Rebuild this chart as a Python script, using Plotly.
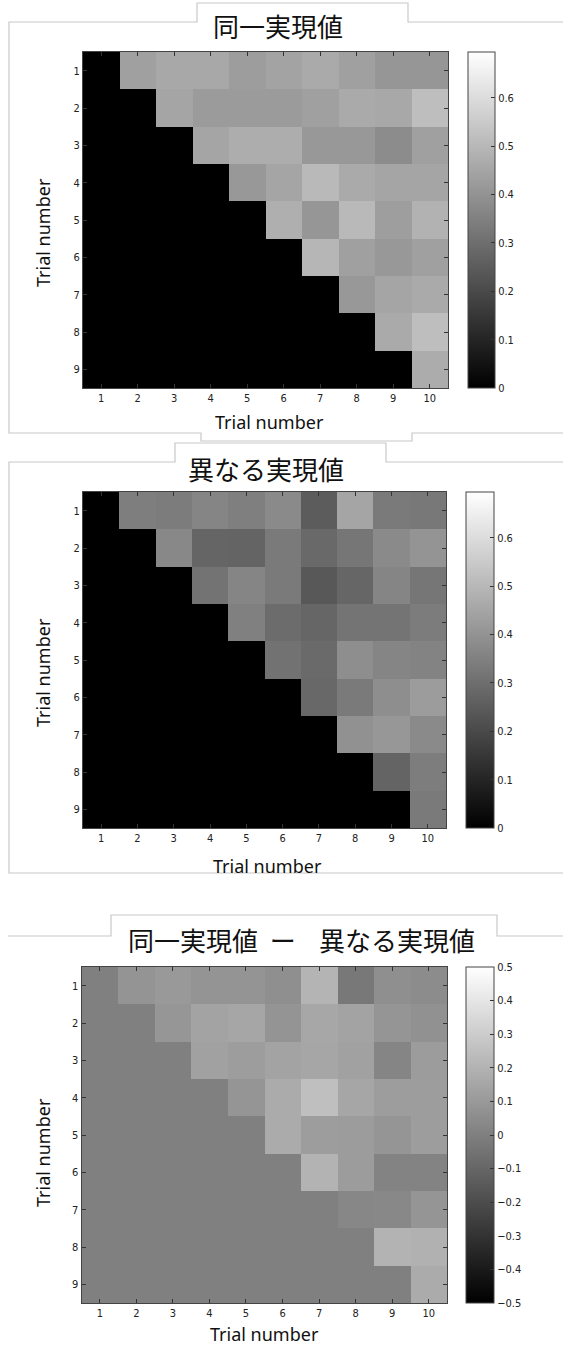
import plotly.graph_objects as go

# ---------------- data ----------------
x_trials = [1, 2, 3, 4, 5, 6, 7, 8, 9, 10]
y_trials = [1, 2, 3, 4, 5, 6, 7, 8, 9]

# 同一実現値 (same realization)
same_vals = [
    [0, .436, .458, .458, .428, .444, .463, .436, .409, .409],
    [0, 0, .450, .422, .422, .422, .436, .463, .458, .518],
    [0, 0, 0, .450, .471, .471, .414, .414, .382, .436],
    [0, 0, 0, 0, .414, .450, .504, .463, .450, .450],
    [0, 0, 0, 0, 0, .477, .409, .504, .431, .485],
    [0, 0, 0, 0, 0, 0, .496, .436, .414, .436],
    [0, 0, 0, 0, 0, 0, 0, .414, .450, .463],
    [0, 0, 0, 0, 0, 0, 0, 0, .463, .518],
    [0, 0, 0, 0, 0, 0, 0, 0, 0, .469],
]

# 異なる実現値 (different realization)
other_vals = [
    [0, .343, .338, .362, .346, .376, .251, .450, .332, .327],
    [0, 0, .371, .275, .272, .332, .286, .322, .376, .403],
    [0, 0, 0, .313, .362, .332, .240, .278, .362, .322],
    [0, 0, 0, 0, .349, .294, .278, .316, .316, .338],
    [0, 0, 0, 0, 0, .311, .289, .387, .362, .357],
    [0, 0, 0, 0, 0, 0, .283, .332, .387, .425],
    [0, 0, 0, 0, 0, 0, 0, .395, .411, .376],
    [0, 0, 0, 0, 0, 0, 0, 0, .273, .341],
    [0, 0, 0, 0, 0, 0, 0, 0, 0, .332],
]

# 同一実現値 − 異なる実現値
delta_vals = [
    [0, .080, .100, .080, .080, .060, .205, -.030, .060, .050],
    [0, 0, .090, .140, .150, .080, .155, .140, .085, .070],
    [0, 0, 0, .130, .115, .140, .150, .130, .020, .110],
    [0, 0, 0, 0, .085, .170, .250, .150, .115, .115],
    [0, 0, 0, 0, 0, .170, .115, .110, .085, .115],
    [0, 0, 0, 0, 0, 0, .200, .110, .015, .015],
    [0, 0, 0, 0, 0, 0, 0, .030, .035, .085],
    [0, 0, 0, 0, 0, 0, 0, 0, .200, .195],
    [0, 0, 0, 0, 0, 0, 0, 0, 0, .170],
]

pos_ticks = [0, 0.1, 0.2, 0.3, 0.4, 0.5, 0.6]
pos_ticktext = ["0", "0.1", "0.2", "0.3", "0.4", "0.5", "0.6"]
sym_ticks = [0.5, 0.4, 0.3, 0.2, 0.1, 0, -0.1, -0.2, -0.3, -0.4, -0.5]
sym_ticktext = ["0.5", "0.4", "0.3", "0.2", "0.1", "0", "\u22120.1", "\u22120.2",
                "\u22120.3", "\u22120.4", "\u22120.5"]

titles = ["同一実現値", "異なる実現値",
          "同一実現値\u00a0\u00a0ー\u00a0\u00a0\u00a0\u00a0異なる実現値"]
axis_label = "Trial number"

# ---------------- layout helpers ----------------
W, H = 563, 1347


def fx(x):
    return x / W


def fy(y):
    return 1 - y / H


TICK_FONT = dict(family="Liberation Sans Narrow, DejaVu Sans Condensed, Arial Narrow, sans-serif",
                 size=11, color="#222")
gray = [[0, "rgb(0,0,0)"], [1, "rgb(255,255,255)"]]

# panel geometry in pixels: (x0, x1, y0, y1, cbar_x0, cbar_x1)
panels = [
    (83, 448, 52, 388, 468, 495),
    (83, 446, 492, 828, 466, 494),
    (81.5, 447, 967, 1303, 466, 494),
]
datasets = [same_vals, other_vals, delta_vals]
zranges = [(0, 0.695), (0, 0.695), (-0.5, 0.5)]
cticks = [(pos_ticks, pos_ticktext), (pos_ticks, pos_ticktext), (sym_ticks, sym_ticktext)]

fig = go.Figure()
layout = dict(width=W, height=H, margin=dict(l=0, r=0, t=0, b=0),
              paper_bgcolor="white", plot_bgcolor="white", showlegend=False)

for i, (geo, z, zr, ct) in enumerate(zip(panels, datasets, zranges, cticks)):
    k = "" if i == 0 else str(i + 1)
    x0, x1, y0, y1, cx0, cx1 = geo
    fig.add_trace(go.Heatmap(
        x=x_trials, y=y_trials, z=z, xaxis="x" + k, yaxis="y" + k,
        colorscale=gray, zmin=zr[0], zmax=zr[1], hoverinfo="skip",
        colorbar=dict(
            x=fx(cx0), xanchor="left", xpad=0, xref="paper",
            y=fy((y0 + y1) / 2), yanchor="middle", ypad=0, yref="paper",
            len=(y1 - y0) / H, lenmode="fraction",
            thickness=cx1 - cx0, thicknessmode="pixels",
            outlinecolor="#444", outlinewidth=1,
            ticks="inside", ticklen=4, tickcolor="#333",
            tickvals=ct[0], ticktext=ct[1], tickfont=TICK_FONT,
        ),
    ))
    axcommon = dict(showgrid=False, zeroline=False, showline=True, linecolor="#444",
                    linewidth=1, mirror="ticks", ticks="inside", ticklen=4,
                    tickcolor="#333", tickfont=TICK_FONT)
    layout["xaxis" + k] = dict(domain=[fx(x0), fx(x1)], anchor="y" + k,
                               range=[0.5, 10.5], tickvals=x_trials, **axcommon)
    layout["yaxis" + k] = dict(domain=[fy(y1), fy(y0)], anchor="x" + k,
                               range=[9.5, 0.5], tickvals=y_trials, **axcommon)

fig.update_layout(**layout)

# ---------------- text ----------------
TITLE_FONT = dict(family="Noto Sans CJK JP", size=26, color="#111")
LABEL_FONT = dict(family="Noto Sans, Open Sans, sans-serif", size=18, color="#111")
title_pos = [(278, 26), (266, 468), (301, 939)]
ylab_pos = [(43, 233), (43, 673), (43, 1153)]
xlab_pos = [(269, 422), (267, 866), (264, 1334)]

ann = []
for t, (tx, ty) in zip(titles, title_pos):
    ann.append(dict(text=t, x=fx(tx), y=fy(ty), xref="paper", yref="paper",
                    xanchor="center", yanchor="middle", showarrow=False, font=TITLE_FONT))
for (tx, ty) in ylab_pos:
    ann.append(dict(text=axis_label, x=fx(tx), y=fy(ty), xref="paper", yref="paper",
                    xanchor="center", yanchor="middle", showarrow=False,
                    textangle=-90, font=LABEL_FONT))
for (tx, ty) in xlab_pos:
    ann.append(dict(text=axis_label, x=fx(tx), y=fy(ty), xref="paper", yref="paper",
                    xanchor="center", yanchor="middle", showarrow=False, font=LABEL_FONT))
fig.update_layout(annotations=ann)

# ---------------- decorative slide frames ----------------
frames = [
    [(563, 22), (408, 22), (408, 3), (197, 3), (197, 22), (9, 22), (9, 433),
     (201, 433), (201, 441), (412, 441), (412, 433), (563, 433)],
    [(563, 462), (386, 462), (386, 443), (175, 443), (175, 462), (9, 462),
     (9, 873), (563, 873)],
    [(563, 936), (497, 936), (497, 915), (111, 915), (111, 936), (8, 936)],
]
shapes = []
for pts in frames:
    path = "M " + " L ".join(f"{fx(a):.5f},{fy(b):.5f}" for a, b in pts)
    shapes.append(dict(type="path", path=path, xref="paper", yref="paper",
                       line=dict(color="#c8c8c8", width=1.2), layer="below"))
fig.update_layout(shapes=shapes)

fig.write_html("out.html",
               config={"displayModeBar": False},
               post_script="document.body.style.margin='0';"
                           "document.body.style.padding='0';"
                           "document.body.style.overflow='hidden';")
